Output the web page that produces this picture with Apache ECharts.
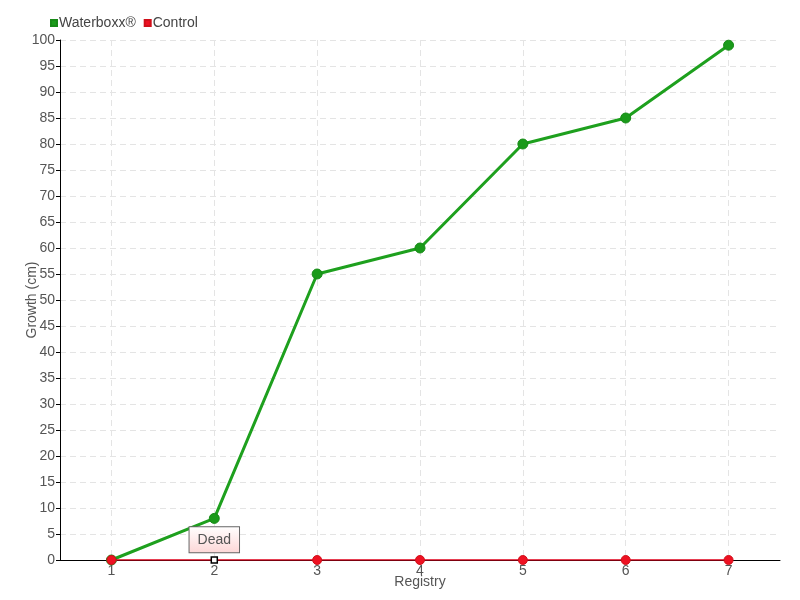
<!DOCTYPE html>
<html><head><meta charset="utf-8">
<script src="https://cdn.jsdelivr.net/npm/echarts@6/dist/echarts.min.js"></script>
<style>html,body{margin:0;padding:0;background:#fff}#c{width:800px;height:600px}</style>
</head><body><div id="c"></div>
<script>
const categories = ['1','2','3','4','5','6','7'];
const waterboxx = [0, 8, 55, 60, 80, 85, 99];
const control = [0, 0, 0, 0, 0, 0, 0];
const deadIndex = 1;
const deadLabel = 'Dead';

const FONT = '"Liberation Sans", Arial, sans-serif';
const chart = echarts.init(document.getElementById('c'));
const controlData = control.map((v, i) => i === deadIndex ? {
  value: v,
  symbol: 'rect', symbolSize: 6,
  itemStyle: {color: '#fff', borderColor: '#000', borderWidth: 1.5},
  label: {
    show: true, position: 'top', distance: 4, formatter: deadLabel,
    color: '#555', fontFamily: FONT, fontSize: 14,
    backgroundColor: {type: 'linear', x: 0, y: 0, x2: 0, y2: 1,
      colorStops: [{offset: 0, color: '#ffffff'}, {offset: 1, color: '#fdd6d6'}]},
    borderColor: '#666', borderWidth: 1, padding: [6, 8, 5, 8]
  }
} : v);

chart.setOption({
  animation: false,
  textStyle: {fontFamily: FONT},
  legend: {
    left: 45, top: 11, icon: 'rect', itemWidth: 6, itemHeight: 6, itemGap: 8,
    textStyle: {color: '#444', fontSize: 14, fontFamily: FONT, padding: [0, 0, 0, -3]},
    data: ['Waterboxx®', 'Control']
  },
  grid: {left: 60, right: 20, top: 40, bottom: 40, containLabel: false},
  xAxis: {
    type: 'category', data: categories, boundaryGap: true,
    name: 'Registry', nameLocation: 'middle', nameGap: 15, nameMoveOverlap: false,
    nameTextStyle: {color: '#555', fontSize: 14, fontFamily: FONT},
    axisLine: {lineStyle: {color: '#000', width: 1}},
    axisTick: {show: false},
    axisLabel: {color: '#555', fontSize: 14, margin: 4, fontFamily: FONT},
    splitLine: {show: true, alignWithLabel: true, lineStyle: {color: '#e4e4e4', type: [6, 4], width: 1}}
  },
  yAxis: {
    type: 'value', min: 0, max: 100, interval: 5,
    name: 'Growth (cm)', nameLocation: 'middle', nameGap: 21, nameMoveOverlap: false,
    nameTextStyle: {color: '#555', fontSize: 14, fontFamily: FONT},
    axisLine: {show: true, lineStyle: {color: '#000', width: 1}},
    axisTick: {show: true, length: 4, lineStyle: {color: '#000'}},
    axisLabel: {color: '#555', fontSize: 14, margin: 5, fontFamily: FONT},
    splitLine: {show: true, lineStyle: {color: '#e4e4e4', type: [6, 4], width: 1}}
  },
  series: [
    {
      name: 'Waterboxx®', type: 'line', data: waterboxx,
      symbol: 'circle', symbolSize: 10, z: 2,
      lineStyle: {color: '#1ea01e', width: 3},
      itemStyle: {color: '#1a9a1a', borderColor: '#178a17', borderWidth: 1}
    },
    {
      name: 'Control', type: 'line', data: controlData,
      symbol: 'circle', symbolSize: 9, z: 3,
      lineStyle: {color: '#e0001a', width: 1.5},
      itemStyle: {color: '#ee1122', borderColor: '#d0101a', borderWidth: 1}
    }
  ]
});
</script></body></html>
